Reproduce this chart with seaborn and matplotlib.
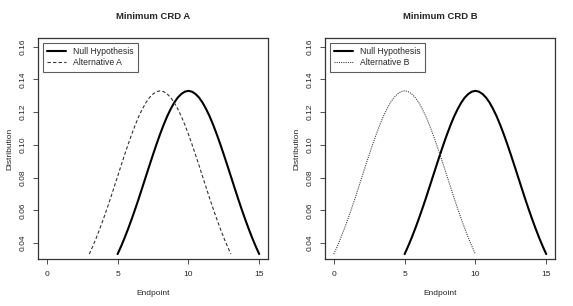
import pandas as pd
import matplotlib
matplotlib.use("Agg")
import matplotlib.pyplot as plt
import seaborn as sns

# density values (all three curves have the same shape)
null_x = [5, 5.25, 5.5, 5.75, 6, 6.25, 6.5, 6.75, 7, 7.25, 7.5, 7.75, 8, 8.25, 8.5, 8.75, 9, 9.25, 9.5, 9.75, 10,
          10.25, 10.5, 10.75, 11, 11.25, 11.5, 11.75, 12, 12.25, 12.5, 12.75, 13, 13.25, 13.5, 13.75, 14, 14.25, 14.5, 14.75, 15]
alt_a_x = [3, 3.25, 3.5, 3.75, 4, 4.25, 4.5, 4.75, 5, 5.25, 5.5, 5.75, 6, 6.25, 6.5, 6.75, 7, 7.25, 7.5, 7.75, 8,
           8.25, 8.5, 8.75, 9, 9.25, 9.5, 9.75, 10, 10.25, 10.5, 10.75, 11, 11.25, 11.5, 11.75, 12, 12.25, 12.5, 12.75, 13]
alt_b_x = [0, 0.25, 0.5, 0.75, 1, 1.25, 1.5, 1.75, 2, 2.25, 2.5, 2.75, 3, 3.25, 3.5, 3.75, 4, 4.25, 4.5, 4.75, 5,
           5.25, 5.5, 5.75, 6, 6.25, 6.5, 6.75, 7, 7.25, 7.5, 7.75, 8, 8.25, 8.5, 8.75, 9, 9.25, 9.5, 9.75, 10]
null_y = [0.0332, 0.0380, 0.0432, 0.0488, 0.0547, 0.0609, 0.0673, 0.0740, 0.0807, 0.0874, 0.0940,
          0.1004, 0.1065, 0.1122, 0.1174, 0.1219, 0.1258, 0.1289, 0.1311, 0.1325, 0.1330,
          0.1325, 0.1311, 0.1289, 0.1258, 0.1219, 0.1174, 0.1122, 0.1065, 0.1004, 0.0940,
          0.0874, 0.0807, 0.0740, 0.0673, 0.0609, 0.0547, 0.0488, 0.0432, 0.0380, 0.0332]
alt_a_y = list(null_y)
alt_b_y = list(null_y)
x_ticks = [0, 5, 10, 15]
y_ticks = [0.04, 0.06, 0.08, 0.10, 0.12, 0.14, 0.16]

sns.set_style("ticks")
plt.rcParams['font.family'] = ['Liberation Sans', 'DejaVu Sans']

fig = plt.figure(figsize=(5.73, 3.06), dpi=100)
axA = fig.add_axes([0.0663, 0.1536, 0.4014, 0.7222])
axB = fig.add_axes([0.5672, 0.1536, 0.4014, 0.7222])

panels = [
    (axA, "Minimum CRD A", "Alternative A", alt_a_x, alt_a_y, (0, (3, 2)), "#333333"),
    (axB, "Minimum CRD B", "Alternative B", alt_b_x, alt_b_y, (0, (1, 1)), "#444444"),
]

for ax, title, alt_name, ax_x, ax_y, ls, col in panels:
    null = pd.DataFrame({"x": null_x, "y": null_y})
    alt = pd.DataFrame({"x": ax_x, "y": ax_y})
    sns.lineplot(data=null, x="x", y="y", ax=ax, color="black", lw=1.5,
                 label="Null Hypothesis", sort=False)
    sns.lineplot(data=alt, x="x", y="y", ax=ax, color=col, lw=0.8,
                 linestyle=ls, label=alt_name, sort=False)
    ax.set_xlim(-0.62, 15.62)
    ax.set_ylim(0.0302, 0.1653)
    ax.set_xticks(x_ticks)
    ax.set_yticks(y_ticks)
    ax.set_yticklabels(["%.2f" % v for v in y_ticks], rotation=90, va="center")
    ax.tick_params(labelsize=6, length=3.5, width=0.6, color="#333333", pad=5)
    for s in ax.spines.values():
        s.set_visible(True)
        s.set_linewidth(0.9)
        s.set_color("#333333")
    ax.set_title(title, fontsize=6.8, fontweight="bold", pad=14)
    ax.set_xlabel("Endpoint", fontsize=6, labelpad=9)
    ax.set_ylabel("Distribution", fontsize=6, labelpad=4)
    leg = ax.legend(loc="upper left", fontsize=6.2, fancybox=False, frameon=True,
                    borderaxespad=0.6, handlelength=2.2, borderpad=0.5,
                    labelspacing=0.2, handletextpad=0.8)
    leg.get_frame().set_edgecolor("#333333")
    leg.get_frame().set_linewidth(0.8)

fig.savefig("out.png", dpi=100)
